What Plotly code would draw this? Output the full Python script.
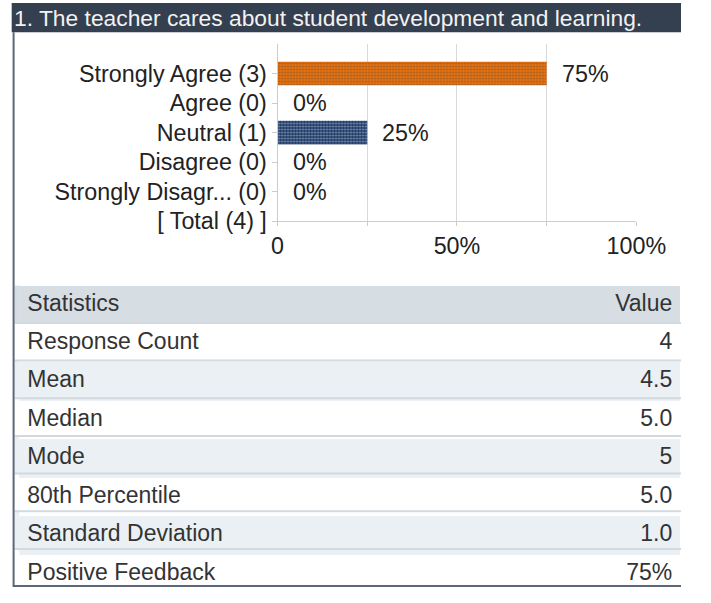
import plotly.graph_objects as go

title_text = "1. The teacher cares about student development and learning."
categories = ["Strongly Agree (3)", "Agree (0)", "Neutral (1)", "Disagree (0)",
              "Strongly Disagr... (0)", "[ Total (4) ]"]
percent_values = [75, 0, 25, 0, 0, None]
bar_colors = ["#e8720f", "#e8720f", "#1d3a68", "#1d3a68", "#1d3a68", "#1d3a68"]
dot_colors = ["#ef8d3a", "#ef8d3a", "#2f4f80", "#2f4f80", "#2f4f80", "#2f4f80"]
x_tickvals = [0, 25, 50, 75, 100]
x_ticktext = ["0", "", "50%", "", "100%"]

stat_names = ["Response Count", "Mean", "Median", "Mode", "80th Percentile",
              "Standard Deviation", "Positive Feedback"]
stat_values = ["4", "4.5", "5.0", "5", "5.0", "1.0", "75%"]
header_labels = ["Statistics", "Value"]

W, H = 711, 603
FONT = "Liberation Sans, Arial, sans-serif"
HEADER_FILL = "#d6dde3"
ALT_FILL = "#ebf0f4"

fig = go.Figure()

fig.add_trace(go.Bar(
    x=percent_values, y=categories, orientation="h", width=0.8,
    marker=dict(color=bar_colors, line=dict(width=0),
                pattern=dict(shape=".", fgcolor=dot_colors, size=3, solidity=0.3)),
    hoverinfo="skip", showlegend=False,
))

for cat, v in zip(categories, percent_values):
    if v is None:
        continue
    fig.add_annotation(x=v, y=cat, xref="x", yref="y", text=f"{v}%",
                       showarrow=False, xanchor="left", yanchor="middle", xshift=13,
                       font=dict(family=FONT, size=23.3, color="#222222"))

row_fills = ["#ffffff" if i % 2 == 0 else ALT_FILL for i in range(len(stat_names))]
tbl_top = 292
hdr_h = 38
row_h = 38.5
tbl_x0 = 14
fig.add_trace(go.Table(
    domain=dict(x=[tbl_x0 / W, 1], y=[0, 1 - tbl_top / H]),
    columnwidth=[3, 1],
    header=dict(values=header_labels, align=["left", "right"], height=hdr_h,
                fill_color=HEADER_FILL, line=dict(width=0),
                font=dict(family=FONT, size=23, color="#333333")),
    cells=dict(values=[stat_names, stat_values], align=["left", "right"], height=row_h,
               fill_color=[row_fills, row_fills], line=dict(width=0),
               font=dict(family=FONT, size=23, color="#333333")),
))

shapes = []
# title bar
shapes.append(dict(type="rect", xref="paper", yref="paper", x0=6 / W, x1=1,
                   y0=1 - 33 / H, y1=1 - 3 / H, fillcolor="#343f4f", line=dict(width=0),
                   layer="above"))
# left extension of table row bands
bands = [(tbl_top, tbl_top + hdr_h, HEADER_FILL)]
for i, f in enumerate(row_fills):
    top = tbl_top + hdr_h + i * row_h
    bands.append((top, top + row_h, f))
for t, b, f in bands:
    shapes.append(dict(type="rect", xref="paper", yref="paper", x0=9 / W, x1=(tbl_x0 + 0.5) / W,
                       y0=1 - b / H, y1=1 - t / H, fillcolor=f, line=dict(width=0),
                       layer="below"))
# row separators
for i in range(len(stat_names)):
    yy = tbl_top + hdr_h + i * row_h
    shapes.append(dict(type="line", xref="paper", yref="paper", x0=9 / W, x1=1,
                       y0=1 - yy / H, y1=1 - yy / H,
                       line=dict(color="#d2d9df", width=2), layer="above"))
# frame
shapes.append(dict(type="line", xref="paper", yref="paper", x0=8 / W, x1=8 / W,
                   y0=1 - 599 / H, y1=1 - 33 / H, line=dict(color="#5c6779", width=2),
                   layer="above"))
shapes.append(dict(type="line", xref="paper", yref="paper", x0=7 / W, x1=1,
                   y0=1 - 599 / H, y1=1 - 599 / H, line=dict(color="#5c6779", width=2),
                   layer="above"))

fig.add_annotation(x=6 / W, y=1 - 18 / H, xref="paper", yref="paper", text=title_text,
                   showarrow=False, xanchor="left", yanchor="middle",
                   font=dict(family=FONT, size=22.8, color="#f2f2f2"))

fig.update_layout(
    width=W, height=H, margin=dict(l=0, r=0, t=0, b=0, pad=0),
    paper_bgcolor="white", plot_bgcolor="white",
    shapes=shapes, bargap=0.2,
    xaxis=dict(domain=[286 / W, 664 / W], range=[0, 100], tickvals=x_tickvals,
               ticktext=x_ticktext, showgrid=True, gridcolor="#d9d9d9", gridwidth=1,
               zeroline=False, showline=True, linecolor="#cccccc", linewidth=1,
               ticks="outside", ticklen=4, tickcolor="#cccccc", ticklabelstandoff=0,
               tickfont=dict(family=FONT, size=23.3, color="#222222"), fixedrange=True),
    yaxis=dict(domain=[1 - 226 / H, 1 - 45 / H], type="category",
               categoryorder="array", categoryarray=categories, range=[5, -1],
               showgrid=False, zeroline=False, showline=True, linecolor="#cccccc",
               linewidth=1, ticks="outside", ticklen=5, tickcolor="#cccccc",
               ticklabelstandoff=0,
               tickfont=dict(family=FONT, size=23.3, color="#222222"), fixedrange=True),
)

fig.write_html("out.html", config={"displayModeBar": False},
               post_script="document.body.style.margin='0';"
                           "document.body.style.overflow='hidden';")
